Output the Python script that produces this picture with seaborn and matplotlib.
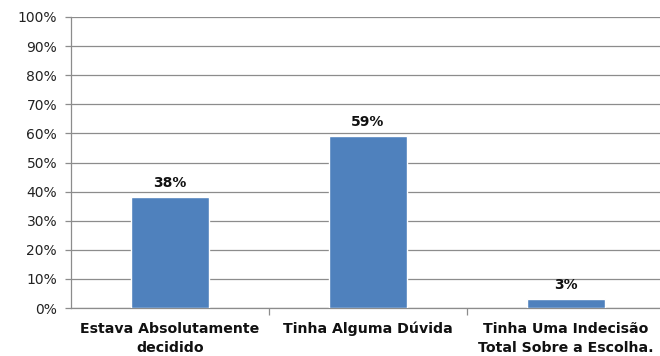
import matplotlib
matplotlib.use("Agg")
import matplotlib.pyplot as plt
import seaborn as sns
import pandas as pd
from matplotlib.ticker import FixedLocator

categories = ["Estava Absolutamente\ndecidido", "Tinha Alguma Dúvida",
              "Tinha Uma Indecisão\nTotal Sobre a Escolha."]
values = [38, 59, 3]
value_labels = ["38%", "59%", "3%"]
y_ticks = list(range(0, 101, 10))

sns.set_theme(style="white")
plt.rcParams["font.family"] = ["DejaVu Sans"]

df = pd.DataFrame({"categoria": categories, "valor": values})

fig = plt.figure(figsize=(6.6, 3.56), dpi=100)
ax = fig.add_axes([71 / 660, 48 / 356, 589 / 660, 291 / 356])

sns.barplot(data=df, x="categoria", y="valor", color="#4F81BD", width=0.394,
            saturation=1, ax=ax, zorder=3)

ax.set_ylim(0, 100)
ax.set_xlim(-0.5, -0.5 + 589 / 198)
ax.set_yticks(y_ticks)
ax.set_yticklabels([f"{t}%" for t in y_ticks], fontsize=10, color="#222222")
ax.yaxis.grid(True, color="#8c8c8c", linewidth=0.9, zorder=0)
ax.set_axisbelow(True)
ax.tick_params(axis="y", which="major", left=True, length=4, width=0.9,
               color="#8c8c8c", pad=6)

ax.set_xticks(range(len(categories)))
ax.set_xticklabels(categories, fontsize=10.2, fontweight="bold", color="#111111",
                   linespacing=1.45)
ax.tick_params(axis="x", which="major", length=0, pad=10)
ax.xaxis.set_minor_locator(FixedLocator([0.5, 1.5]))
ax.tick_params(axis="x", which="minor", bottom=True, length=5, width=0.9,
               color="#8c8c8c")

ax.set_xlabel("")
ax.set_ylabel("")
for side in ["top", "right"]:
    ax.spines[side].set_visible(False)
for side in ["left", "bottom"]:
    ax.spines[side].set_color("#8c8c8c")
    ax.spines[side].set_linewidth(0.9)

for i, (v, lab) in enumerate(zip(values, value_labels)):
    ax.annotate(lab, (i, v), xytext=(0, 5), textcoords="offset points",
                ha="center", va="bottom", fontsize=10, fontweight="bold",
                color="#111111")

fig.savefig("out.png", dpi=100, facecolor="white")
